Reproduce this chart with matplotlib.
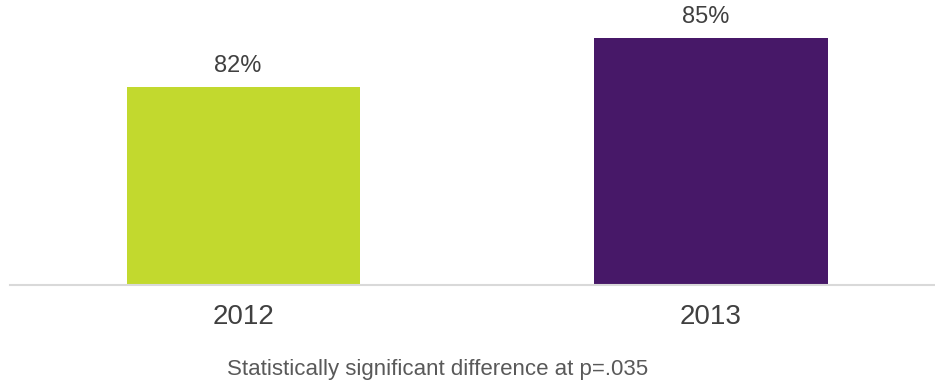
import matplotlib
matplotlib.use("Agg")
import matplotlib.pyplot as plt

years = ["2012", "2013"]
values = [82, 85]
colors = ["#C2D92E", "#471868"]
note = "Statistically significant difference at p=.035"

plt.rcParams['font.family'] = ['Liberation Sans', 'DejaVu Sans']

fig = plt.figure(figsize=(9.35, 3.81), dpi=100)
ax = fig.add_axes([10 / 935, 96.5 / 381, 925 / 935, 284.5 / 381])

x = range(len(years))
bars = ax.bar(x, values, width=0.5, color=colors, bottom=0)
ax.set_ylim(70, 87.3)
ax.set_xlim(-0.5, 1.48)

# value labels above the bars
for b, v in zip(bars, values):
    ax.annotate(f"{v}%", (b.get_x() + b.get_width() / 2, v),
                xytext=(-4, 11), textcoords="offset points",
                ha="center", va="baseline", fontsize=17, color="#404040")

ax.set_xticks(list(x))
ax.set_xticklabels(years, fontsize=20, color="#404040")
ax.tick_params(axis="x", length=0, pad=14)
ax.set_yticks([])

for side in ["top", "right", "left"]:
    ax.spines[side].set_visible(False)
ax.spines["bottom"].set_color("#d9d9d9")
ax.spines["bottom"].set_linewidth(1.5)

fig.text(437.5 / 935, 6 / 381, note, ha="center", va="baseline",
         fontsize=16, color="#595959")

fig.savefig("out.png", dpi=100)
